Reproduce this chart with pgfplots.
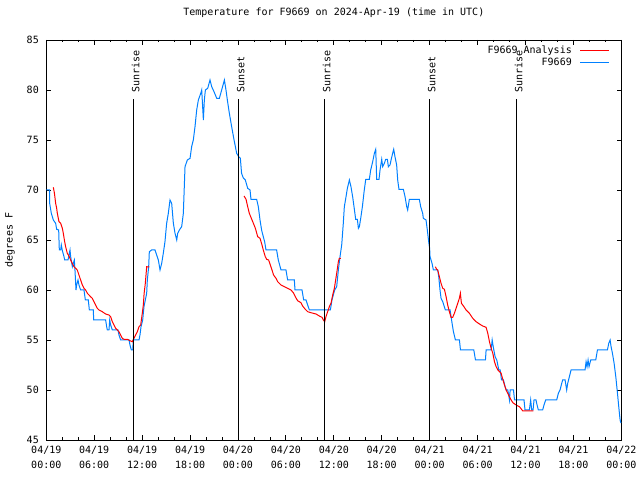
\documentclass[border=0pt]{standalone}
\usepackage{fontspec}
\setmainfont{DejaVu Sans Mono}
\usepackage{pgfplots}
\pgfplotsset{compat=1.18}
\definecolor{obsblue}{RGB}{0,128,255}
\definecolor{anared}{RGB}{255,0,0}
\begin{document}
\begin{tikzpicture}
\path[use as bounding box] (0,0) rectangle (640bp,480bp);
\begin{axis}[
  at={(46.3bp,40bp)}, anchor=south west,
  scale only axis, width=575bp, height=400bp,
  xmin=0, xmax=72, ymin=45, ymax=85,
  xtick={0,6,...,72}, minor x tick num=2,
  ytick={45,50,...,85},
  tick align=inside, major tick length=4.5bp, minor tick length=2.5bp,
  axis line style={line width=0.8bp},
  every tick/.style={black, line width=0.8bp},
  font=\fontsize{10bp}{12bp}\selectfont,
  /pgf/number format/assume math mode=true,
  xticklabel style={align=center, font=\fontsize{10bp}{15bp}\selectfont, yshift=-3bp},
  yticklabel style={xshift=-4bp},
  xticklabels={{04/19\\00:00},{04/19\\06:00},{04/19\\12:00},{04/19\\18:00},{04/20\\00:00},{04/20\\06:00},{04/20\\12:00},{04/20\\18:00},{04/21\\00:00},{04/21\\06:00},{04/21\\12:00},{04/21\\18:00},{04/22\\00:00}},
  title={Temperature for F9669 on 2024-Apr-19 (time in UTC)},
  title style={at={(axis description cs:0.5,1.0525)}, anchor=center},
  ylabel={degrees F},
  every axis y label/.style={at={(axis description cs:-0.0631,0.5)}, anchor=center, rotate=90},
  legend style={draw=none, fill=none, at={(1,1)}, anchor=north east, xshift=-11.3bp, yshift=-4bp,
    inner sep=0pt, row sep=0pt, column sep=7bp,
    nodes={inner sep=1bp, text height=8bp, text depth=2bp}},
  legend cell align=right,
  legend plot pos=right,
  legend image code/.code={\draw[#1] (0bp,0bp) -- (29bp,0bp);},
]
\addlegendimage{anared, line width=1bp}
\addlegendentry{F9669 Analysis}
\addlegendimage{obsblue, line width=1bp}
\addlegendentry{F9669}

% observations
\addplot[obsblue, line width=1bp, forget plot] coordinates {
(0.0,70.0)(0.21,70.0)(0.42,70.0)(0.42,68.67)(0.63,67.67)(0.88,67.0)(1.17,66.67)(1.30,66.07)(1.55,66.0)(1.63,64.0)
(1.80,64.0)(1.88,64.5)(2.01,63.93)(2.22,63.33)(2.30,63.0)(2.72,63.0)(2.84,63.5)(2.97,64.0)(3.05,63.33)(3.26,62.33)
(3.38,62.67)(3.51,63.0)(3.59,62.0)(3.72,60.0)(3.80,60.5)(3.97,61.0)(4.09,60.5)(4.30,60.0)(4.72,60.0)(4.89,59.0)
(5.26,59.0)(5.39,58.0)(5.89,58.0)(5.93,57.0)(7.43,57.0)(7.56,56.33)(7.64,56.0)(7.85,56.0)(7.94,57.0)(8.06,56.5)
(8.27,56.0)(8.98,56.0)(9.10,55.5)(9.31,55.0)(10.36,55.0)(10.48,54.5)(10.65,54.0)(10.82,54.0)(10.90,55.0)(11.61,55.0)
(11.73,55.5)(11.86,56.33)(12.07,57.0)(12.23,58.33)(12.40,59.0)(12.57,59.67)(12.65,61.0)(12.82,62.33)(12.90,63.83)(13.19,64.0)
(13.61,64.0)(13.82,63.5)(14.03,63.0)(14.24,62.0)(14.45,62.67)(14.65,63.67)(14.86,64.83)(15.07,66.67)(15.28,67.67)(15.49,69.0)
(15.70,68.67)(15.91,66.67)(16.12,65.67)(16.33,65.0)(16.45,65.67)(16.66,66.0)(16.95,66.33)(17.16,67.67)(17.37,72.33)(17.66,73.0)
(18.00,73.17)(18.20,74.33)(18.41,75.0)(18.62,76.33)(18.83,78.0)(19.04,79.0)(19.34,79.67)(19.46,80.0)(19.67,77.0)(19.79,79.0)
(19.92,80.0)(20.21,80.17)(20.50,81.0)(20.71,80.33)(21.00,79.83)(21.34,79.17)(21.67,79.17)(21.96,80.0)(22.30,81.0)(22.50,80.0)
(22.67,79.0)(22.92,77.67)(23.21,76.33)(23.51,75.0)(23.84,73.67)(24.09,73.33)(24.30,73.17)(24.45,71.67)(24.67,71.2)(24.92,71.0)
(25.22,70.17)(25.51,70.0)(25.63,69.07)(26.34,69.07)(26.55,68.33)(26.76,67.0)(26.96,66.0)(27.17,65.33)(27.34,64.83)(27.51,64.0)
(28.84,64.0)(29.05,63.0)(29.39,62.0)(30.01,62.0)(30.22,61.0)(31.06,61.0)(31.14,60.0)(32.02,60.0)(32.23,59.0)(32.52,59.0)
(32.94,58.0)(35.57,58.0)(35.77,59.0)(36.11,60.0)(36.36,60.33)(36.57,62.0)(36.78,63.33)(36.99,64.5)(37.19,66.67)(37.32,68.33)
(37.53,69.33)(37.70,70.17)(37.95,71.0)(38.15,70.33)(38.36,69.33)(38.53,68.33)(38.74,67.07)(38.95,67.07)(39.08,66.17)(39.20,66.33)
(39.37,67.17)(39.58,68.33)(39.79,69.83)(40.00,71.07)(40.45,71.07)(40.62,72.0)(40.87,72.83)(41.08,73.67)(41.25,74.07)(41.37,71.07)
(41.66,71.07)(41.79,72.0)(42.00,73.07)(42.12,72.33)(42.33,72.67)(42.50,73.07)(42.71,73.07)(42.83,72.33)(43.04,72.5)(43.17,73.0)
(43.37,73.67)(43.50,74.07)(43.66,73.33)(43.87,72.5)(44.00,71.0)(44.16,70.07)(44.71,70.07)(44.92,69.33)(45.13,68.33)(45.25,68.0)
(45.46,69.07)(46.71,69.07)(46.88,68.33)(47.13,67.67)(47.21,67.17)(47.55,67.0)(47.71,66.0)(47.88,64.83)(48.00,64.17)(48.05,63.33)
(48.30,62.67)(48.47,62.0)(49.01,62.0)(49.14,61.33)(49.30,60.0)(49.43,59.17)(49.64,58.83)(49.97,58.0)(50.56,58.0)(50.81,56.67)
(50.98,55.83)(51.23,55.0)(51.73,55.0)(51.86,54.0)(53.53,54.0)(53.74,53.0)(54.99,53.0)(55.07,54.0)(55.70,54.0)(55.83,55.0)
(56.00,54.17)(56.20,53.33)(56.41,53.0)(56.66,52.0)(56.83,52.0)(57.00,51.0)(57.24,51.0)(57.45,50.33)(57.58,50.0)(57.79,50.0)
(58.00,49.0)(58.08,50.0)(58.50,50.0)(58.63,49.0)(59.82,49.0)(59.94,48.0)(60.49,48.0)(60.65,49.0)(60.78,48.0)(60.95,48.0)
(61.07,49.0)(61.32,49.0)(61.40,48.67)(61.61,48.0)(62.15,48.0)(62.32,48.5)(62.53,49.0)(63.91,49.0)(64.12,49.67)(64.33,50.0)
(64.54,50.67)(64.66,51.0)(64.96,51.0)(65.16,50.0)(65.29,50.67)(65.50,51.33)(65.71,52.0)(67.46,52.0)(67.59,52.83)(67.71,52.33)
(67.84,53.0)(67.96,52.33)(68.17,53.0)(68.80,53.0)(69.01,54.0)(70.26,54.0)(70.43,54.67)(70.60,55.0)(70.72,54.33)(70.89,53.67)
(71.10,52.67)(71.31,51.33)(71.52,49.67)(71.68,48.33)(71.85,47.0)(71.95,46.7)
};

% analysis, three segments
\addplot[anared, line width=1bp, forget plot] coordinates {
(0.88,70.27)(1.02,69.67)(1.17,68.67)(1.30,68.17)(1.38,67.67)(1.59,66.83)(1.80,66.67)(2.01,66.17)(2.13,65.67)(2.30,64.83)
(2.42,64.33)(2.63,63.67)(2.84,63.4)(3.05,63.0)(3.26,62.67)(3.46,62.33)(3.67,62.17)(3.88,62.0)(4.09,61.5)(4.30,61.0)
(4.51,60.5)(4.72,60.17)(4.93,60.0)(5.14,59.67)(5.55,59.33)(5.76,59.17)(5.97,58.83)(6.18,58.5)(6.39,58.17)(6.60,58.0)
(7.01,57.83)(7.43,57.6)(7.85,57.5)(8.06,57.33)(8.27,56.83)(8.48,56.5)(8.69,56.17)(8.89,56.0)(9.10,55.83)(9.31,55.5)
(9.52,55.17)(9.73,55.07)(10.15,55.07)(10.48,54.93)(10.77,54.83)(10.98,55.17)(11.19,55.5)(11.40,55.83)(11.61,56.33)(11.82,56.5)
(12.02,57.67)(12.15,58.5)(12.25,59.67)(12.40,60.67)(12.57,62.33)(12.90,62.3)
};
\addplot[anared, line width=1bp, forget plot] coordinates {
(24.76,69.4)(25.01,69.07)(25.22,68.33)(25.42,67.67)(25.76,67.0)(25.93,66.67)(26.18,66.17)(26.47,65.33)(26.76,65.17)(27.01,64.5)
(27.17,64.0)(27.42,63.33)(27.59,63.07)(27.84,63.0)(28.05,62.5)(28.26,62.0)(28.46,61.5)(28.76,61.17)(28.97,60.83)(29.39,60.5)
(29.80,60.33)(30.22,60.17)(30.64,60.0)(30.93,59.73)(31.18,59.33)(31.47,58.93)(31.89,58.73)(32.10,58.4)(32.43,58.07)(32.73,57.83)
(33.14,57.73)(33.77,57.6)(34.19,57.4)(34.52,57.27)(34.69,57.0)(34.86,56.83)(35.02,57.33)(35.23,57.83)(35.44,58.33)(35.65,58.67)
(35.86,59.5)(36.07,60.17)(36.20,60.83)(36.36,61.67)(36.57,62.83)(36.69,63.17)(36.90,63.17)
};
\addplot[anared, line width=1bp, forget plot] coordinates {
(48.72,62.33)(48.88,62.07)(49.01,62.0)(49.22,61.33)(49.43,60.67)(49.64,60.17)(49.85,60.07)(50.06,59.33)(50.26,58.5)(50.47,57.83)
(50.68,57.27)(50.89,57.27)(51.10,57.67)(51.31,58.17)(51.52,58.67)(51.72,59.17)(51.85,59.67)(51.98,58.67)(52.14,58.5)(52.35,58.27)
(52.56,58.0)(52.98,57.67)(53.40,57.17)(53.82,56.83)(54.24,56.6)(54.65,56.4)(55.07,56.27)(55.28,55.67)(55.49,54.83)(55.70,54.17)
(55.91,53.67)(56.12,52.83)(56.33,52.33)(56.54,52.0)(56.75,51.83)(56.95,51.67)(57.16,51.07)(57.37,50.5)(57.58,50.0)(57.79,49.67)
(58.00,49.33)(58.21,49.0)(58.42,48.73)(58.83,48.5)(59.25,48.33)(59.67,47.9)(61.0,47.9)
};

% sunrise / sunset markers
\addplot[black, line width=1bp, forget plot] coordinates {(10.90,45) (10.90,79.1)};
\addplot[black, line width=1bp, forget plot] coordinates {(24.04,45) (24.04,79.1)};
\addplot[black, line width=1bp, forget plot] coordinates {(34.80,45) (34.80,79.1)};
\addplot[black, line width=1bp, forget plot] coordinates {(47.96,45) (47.96,79.1)};
\addplot[black, line width=1bp, forget plot] coordinates {(58.85,45) (58.85,79.1)};
\node[rotate=90, anchor=west, inner sep=0pt] at (axis cs:11.20,79.75) {Sunrise};
\node[rotate=90, anchor=west, inner sep=0pt] at (axis cs:24.34,79.75) {Sunset};
\node[rotate=90, anchor=west, inner sep=0pt] at (axis cs:35.10,79.75) {Sunrise};
\node[rotate=90, anchor=west, inner sep=0pt] at (axis cs:48.26,79.75) {Sunset};
\node[rotate=90, anchor=west, inner sep=0pt] at (axis cs:59.15,79.75) {Sunrise};
\end{axis}
\end{tikzpicture}
\end{document}
